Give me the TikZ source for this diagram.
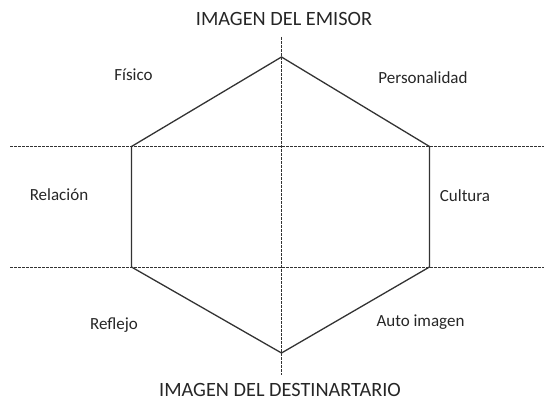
\documentclass[tikz,border=0pt]{standalone}
\usepackage{fontspec}
\setmainfont{Carlito}
\begin{document}
\begin{tikzpicture}[x=1pt,y=-1pt,
  hexedge/.style={draw=black!80, line width=1.3pt},
  guide/.style={draw=black!80, line width=1pt, dash pattern=on 3pt off 1pt},
  lab/.style={font=\fontsize{17}{20}\selectfont, text=black!85, inner sep=0pt},
  title/.style={font=\fontsize{20.3}{24}\selectfont, text=black!85, inner sep=0pt}]
\useasboundingbox (0,0) rectangle (544,401);
% guide line ends
\coordinate (hl1) at (10,146.5);
\coordinate (hr1) at (544,146.5);
\coordinate (hl2) at (10,267);
\coordinate (hr2) at (544,267);
\coordinate (vt) at (281.5,37);
\coordinate (vb) at (281.5,375);
\draw[guide] (hl1) -- (hr1);
\draw[guide] (hl2) -- (hr2);
\draw[guide] (vt) -- (vb);
% hexagon vertices
\coordinate (top) at (281.5,57);
\coordinate (ul) at (131.5,146.5);
\coordinate (ur) at (429.5,146.5);
\coordinate (ll) at (131.5,267);
\coordinate (lr) at (429.5,267);
\coordinate (bot) at (281.5,353);
\draw[hexedge, line join=miter] (top) -- (ur) -- (lr) -- (bot) -- (ll) -- (ul) -- cycle;
% labels
\node[title] (emisor) at (284,18.5) {IMAGEN DEL EMISOR};
\node[title] (dest) at (280,389.5) {IMAGEN DEL DESTINARTARIO};
\node[lab] (fisico) at (133.5,75) {Físico};
\node[lab] (pers) at (423,78) {Personalidad};
\node[lab] (rel) at (59,195) {Relación};
\node[lab] (cult) at (465,196) {Cultura};
\node[lab] (refl) at (114,325) {Reflejo};
\node[lab] (auto) at (420.5,322) {Auto imagen};
\end{tikzpicture}
\end{document}
